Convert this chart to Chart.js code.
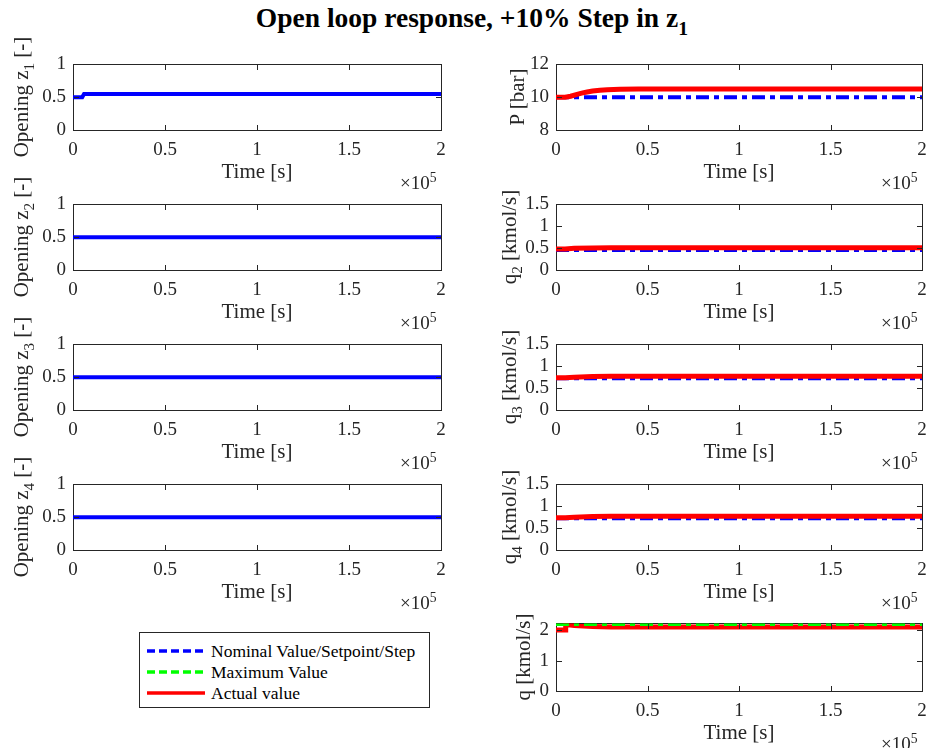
<!DOCTYPE html>
<html>
<head>
<meta charset="utf-8">
<script src="https://cdn.jsdelivr.net/npm/chart.js@4.4.1/dist/chart.umd.min.js"></script>
<style>
  html, body { margin: 0; padding: 0; background: #fff; }
  #fig { position: relative; width: 930px; height: 748px; overflow: hidden;
         font-family: 'Liberation Serif', 'Times New Roman', serif; color: #262626; }
  #fig canvas { position: absolute; }
  .title { position: absolute; left: 0; width: 944px; top: 4px; text-align: center;
           font-weight: bold; font-size: 27.5px; line-height: 27px; color: #000; white-space: nowrap; }
  .ylab { position: absolute; white-space: nowrap; font-size: 21px; line-height: 21px;
          transform: translate(-50%, -50%) rotate(-90deg); z-index: 2; }
  .sub { font-size: 0.72em; position: relative; top: 0.38em; }
  .exp { position: absolute; font-size: 19px; line-height: 19px; white-space: nowrap; }
  .sup { font-size: 0.72em; position: relative; top: -0.5em; }
  #legend { position: absolute; left: 139px; top: 632px; width: 291px; height: 76px;
            border: 1px solid #262626; background: #fff; box-sizing: border-box; z-index: 3; }
  .lrow { position: absolute; left: 0; height: 20px; line-height: 20px; font-size: 17.5px;
          white-space: nowrap; color: #000; }
  .lrow svg { position: absolute; left: 6px; top: 5px; }
  .lrow span { position: absolute; left: 71px; top: 0; }
</style>
</head>
<body>
<div id="fig">
  <div class="title">Open loop response, +10% Step in z<span class="sub" style="top:0.4em">1</span></div>
</div>
<script>
// ---- time axis ----
const xTicks = [0, 50000, 100000, 150000, 200000];
const xTickLabels = ['0', '0.5', '1', '1.5', '2'];

// ---- y tick sets ----
const zTicks = [0, 0.5, 1];
const pTicks = [8, 10, 12];
const qiTicks = [0, 0.5, 1, 1.5];
const qTicks = [0, 1, 2];

// ---- valve openings z1..z4 [-] ----
const tZ1 = [0, 5000, 6000, 200000];
const z1 = [0.5, 0.5, 0.55, 0.55];
const tFlat = [0, 200000];
const z2 = [0.5, 0.5];
const z3 = [0.5, 0.5];
const z4 = [0.5, 0.5];

// ---- pressure [bar] ----
const tP = [0, 5000, 8000, 11000, 14000, 17000, 20000, 24000, 28000, 35000, 45000, 200000];
const pActual = [10, 10, 10.06, 10.16, 10.25, 10.32, 10.38, 10.43, 10.46, 10.49, 10.5, 10.5];
const pNominal = [10, 10];

// ---- outlet flows q2..q4 [kmol/s] ----
const tQ = [0, 5000, 10000, 20000, 30000, 200000];
const q2Actual = [0.48, 0.48, 0.495, 0.505, 0.51, 0.51];
const q2Nominal = [0.45, 0.45];
const q3Actual = [0.74, 0.74, 0.75, 0.765, 0.77, 0.77];
const q3Nominal = [0.72, 0.72];
const q4Actual = [0.74, 0.74, 0.75, 0.765, 0.77, 0.77];
const q4Nominal = [0.72, 0.72];

// ---- total flow q [kmol/s] ----
const tQt = [0, 5000, 5300, 10000, 20000, 30000, 200000];
const qActual = [2.0, 2.0, 2.18, 2.15, 2.12, 2.1, 2.1];
const qMax = [2.2, 2.2];

const FONT = "'Liberation Serif', 'Times New Roman', serif";
const INK = '#262626';
const BLUE = '#0000ff', RED = '#ff0000', GREEN = '#00ff00';
const DASHDOT = [13, 5, 5, 5];

const PAD_L = 70, PAD_T = 14, PAD_R = 14, AX_H = 55;
const fig = document.getElementById('fig');

// every axis edge draws a dark 1px line; together they close the box
const edge = {
  border: { display: true, color: INK, width: 1 },
  grid: { display: false, drawTicks: false }
};

// short tick marks pointing into the plot, on all four sides
const inwardTicks = {
  id: 'inwardTicks',
  afterDraw(chart) {
    const ctx = chart.ctx, a = chart.chartArea;
    const xs = chart.scales.x, ys = chart.scales.y;
    if (!a || !xs || !ys) return;
    const L = Math.round(a.left), T = Math.round(a.top);
    const R = Math.round(a.right), B = Math.round(a.bottom);
    ctx.save();
    ctx.fillStyle = INK;
    xs.ticks.forEach(t => {
      const px = Math.round(xs.getPixelForValue(t.value));
      if (px <= L || px >= R) return;
      ctx.fillRect(px, B - 5, 1, 5);
      ctx.fillRect(px, T + 1, 1, 5);
    });
    ys.ticks.forEach(t => {
      const py = Math.round(ys.getPixelForValue(t.value));
      if (py <= T || py >= B) return;
      ctx.fillRect(L + 1, py, 5, 1);
      ctx.fillRect(R - 5, py, 5, 1);
    });
    ctx.restore();
  }
};

function addHtml(cls, html, style) {
  const d = document.createElement('div');
  d.className = cls;
  d.innerHTML = html;
  Object.assign(d.style, style);
  fig.appendChild(d);
  return d;
}

function panel(box, yMin, yMax, yTicks, ylabel, ylabelX, series) {
  const [L, T, R, B] = box;
  const w = R - L + PAD_L + PAD_R, h = B - T + PAD_T + AX_H;
  const cv = document.createElement('canvas');
  cv.width = w; cv.height = h;
  Object.assign(cv.style, { left: (L - PAD_L) + 'px', top: (T - PAD_T) + 'px', width: w + 'px', height: h + 'px' });
  fig.appendChild(cv);

  const setX = s => { s.ticks = xTicks.map(v => ({ value: v })); };
  const setY = s => { s.ticks = yTicks.map(v => ({ value: v })); };

  const chart = new Chart(cv, {
    type: 'line',
    data: {
      datasets: series.map(s => ({
        data: s.t.map((tv, i) => ({ x: tv, y: s.v[i] })),
        borderColor: s.color,
        borderWidth: s.width,
        borderDash: s.dash || [],
        borderCapStyle: 'butt',
        pointRadius: 0,
        tension: 0,
        fill: false,
        order: s.order,
        xAxisID: 'x',
        yAxisID: 'y'
      }))
    },
    options: {
      responsive: false,
      maintainAspectRatio: false,
      animation: false,
      events: [],
      layout: { padding: { left: 0, top: PAD_T, right: PAD_R, bottom: 0 } },
      plugins: { legend: { display: false }, tooltip: { enabled: false } },
      scales: {
        x: {
          type: 'linear', position: 'bottom', min: 0, max: 200000, ...edge,
          afterBuildTicks: setX,
          afterFit: s => { s.height = AX_H; },
          ticks: {
            callback: v => xTickLabels[xTicks.indexOf(v)],
            font: { family: FONT, size: 19 }, color: INK, padding: 9,
            maxRotation: 0, autoSkip: false
          },
          title: { display: true, text: 'Time [s]', font: { family: FONT, size: 21 }, color: INK, padding: { top: 0, bottom: 0 } }
        },
        y: {
          type: 'linear', position: 'left', min: yMin, max: yMax, ...edge,
          afterBuildTicks: setY,
          afterFit: s => { s.width = PAD_L; },
          ticks: {
            callback: v => String(v),
            font: { family: FONT, size: 19 }, color: INK, padding: 7, autoSkip: false
          }
        },
        xTop: {
          type: 'linear', axis: 'x', position: 'top', min: 0, max: 200000, ...edge,
          afterBuildTicks: setX,
          afterFit: s => { s.height = 0; },
          ticks: { display: false }
        },
        yRight: {
          type: 'linear', axis: 'y', position: 'right', min: yMin, max: yMax, ...edge,
          afterBuildTicks: setY,
          afterFit: s => { s.width = 0; },
          ticks: { display: false }
        }
      }
    },
    plugins: [inwardTicks]
  });

  // size the canvas so the plot area spans exactly [L,R] x [T,B], then place it
  const a = chart.chartArea;
  const needW = Math.round(w + (R - L) - (a.right - a.left));
  const needH = Math.round(h + (B - T) - (a.bottom - a.top));
  if (needW !== w || needH !== h) chart.resize(needW, needH);
  const a2 = chart.chartArea;
  cv.style.left = (L - Math.round(a2.left)) + 'px';
  cv.style.top = (T - Math.round(a2.top)) + 'px';

  addHtml('ylab', ylabel, { left: ylabelX + 'px', top: ((T + B) / 2) + 'px' });
  addHtml('exp', '&times;10<span class="sup">5</span>', { left: (R - 41) + 'px', top: (B + 43) + 'px' });
}

const LC = [73, 441], RC = [556, 922];
const rows = [[64, 130], [204, 270], [344, 410], [484, 550]];

const zs = [[tZ1, z1], [tFlat, z2], [tFlat, z3], [tFlat, z4]];
zs.forEach(([t, v], i) => {
  panel([LC[0], rows[i][0], LC[1], rows[i][1]], 0, 1, zTicks,
    'Opening z<span class="sub">' + (i + 1) + '</span> [-]', 22,
    [{ t, v, color: BLUE, width: 4, order: 0 }]);
});

panel([RC[0], rows[0][0], RC[1], rows[0][1]], 8, 12, pTicks, 'P [bar]', 517, [
  { t: tP, v: pActual, color: RED, width: 5, order: 0 },
  { t: tFlat, v: pNominal, color: BLUE, width: 4, dash: DASHDOT, order: 1 }
]);

const qs = [[q2Actual, q2Nominal, 2], [q3Actual, q3Nominal, 3], [q4Actual, q4Nominal, 4]];
qs.forEach(([act, nom, k], i) => {
  panel([RC[0], rows[i + 1][0], RC[1], rows[i + 1][1]], 0, 1.5, qiTicks,
    'q<span class="sub">' + k + '</span> [kmol/s]', 510, [
      { t: tQ, v: act, color: RED, width: 5, order: 0 },
      { t: tFlat, v: nom, color: BLUE, width: 3.5, dash: DASHDOT, order: 1 }
    ]);
});

panel([RC[0], 623, RC[1], 691], 0, 2.22, qTicks, 'q [kmol/s]', 523, [
  { t: tQt, v: qActual, color: RED, width: 5, order: 1 },
  { t: tFlat, v: qMax, color: GREEN, width: 4, dash: DASHDOT, order: 0 }
]);

// legend
const legendItems = [
  ['Nominal Value/Setpoint/Step', BLUE, '8 4'],
  ['Maximum Value', GREEN, '8 4'],
  ['Actual value', RED, '']
];
const leg = document.createElement('div');
leg.id = 'legend';
legendItems.forEach(([label, color, dash], i) => {
  const row = document.createElement('div');
  row.className = 'lrow';
  row.style.top = (8 + i * 21) + 'px';
  row.innerHTML = '<svg width="60" height="10"><line x1="1" y1="5" x2="59" y2="5" stroke="' + color +
    '" stroke-width="3.5"' + (dash ? ' stroke-dasharray="' + dash + '"' : '') + '/></svg><span>' + label + '</span>';
  leg.appendChild(row);
});
fig.appendChild(leg);
</script>
</body>
</html>
